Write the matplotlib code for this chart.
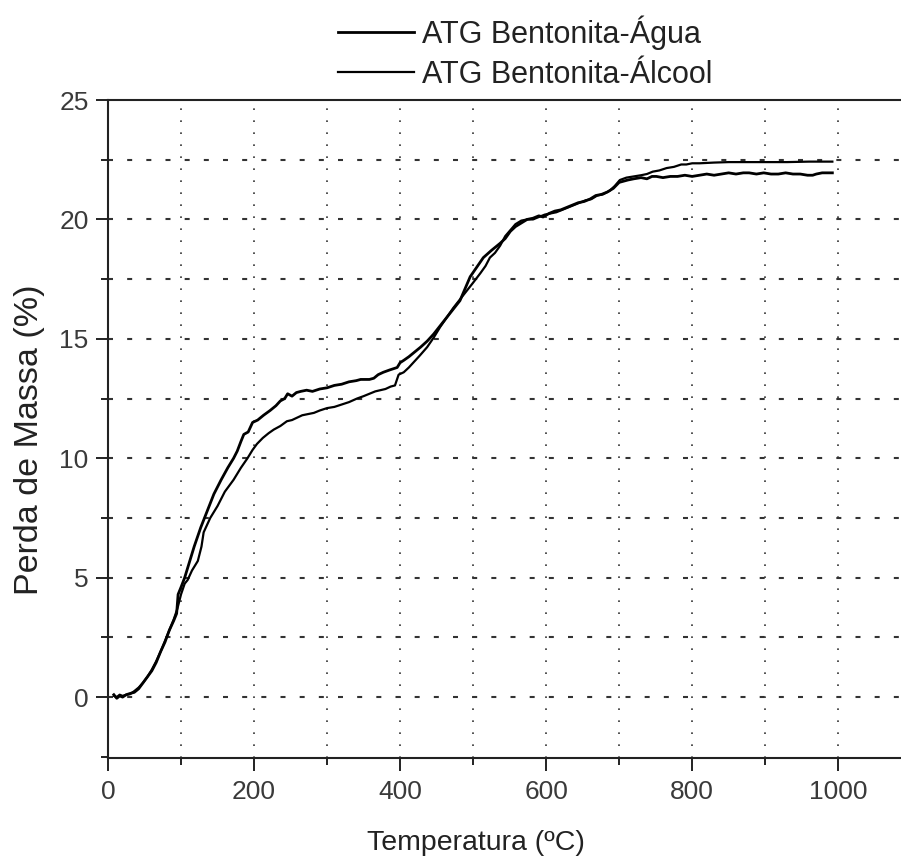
import matplotlib
matplotlib.use("Agg")
import matplotlib.pyplot as plt
from matplotlib.ticker import MultipleLocator

plt.rcParams['font.family'] = ['Liberation Sans', 'DejaVu Sans']

# ---- data ----
temp_agua = [8, 12, 16, 20, 25, 30, 36, 42, 48, 54, 60, 66, 72, 78, 84, 90, 94, 96, 100, 105,
             111, 118, 127, 136, 145, 155, 164, 172, 177, 182, 186, 192, 198, 205, 213, 222,
             230, 236, 242, 246, 252, 258, 264, 272, 280, 290, 300, 310, 320, 330, 340, 346,
             352, 358, 364, 370, 377, 386, 396, 400, 405, 412, 420, 428, 437, 446, 455, 464,
             473, 482, 489, 496, 505, 514, 525, 537, 544, 551, 558, 566, 574, 582, 590, 596,
             604, 612, 620, 628, 636, 644, 652, 660, 668, 676, 684, 692, 700, 706, 712, 720,
             730, 738, 745, 751, 760, 770, 780, 790, 800, 810, 820, 830, 840, 850, 860, 870,
             878, 888, 898, 908, 918, 928, 938, 948, 958, 965, 970, 978, 985, 992]
perda_agua = [0.1, -0.05, 0.05, 0.0, 0.1, 0.15, 0.2, 0.35, 0.6, 0.85, 1.1, 1.45, 1.9, 2.3, 2.8,
              3.2, 3.5, 4.3, 4.6, 5.0, 5.6, 6.3, 7.1, 7.8, 8.5, 9.1, 9.6, 10.0, 10.3, 10.7, 11.0,
              11.1, 11.5, 11.6, 11.8, 12.0, 12.2, 12.4, 12.5, 12.7, 12.6, 12.75, 12.8, 12.85,
              12.8, 12.9, 12.95, 13.05, 13.1, 13.2, 13.25, 13.3, 13.3, 13.3, 13.35, 13.5, 13.6,
              13.7, 13.8, 14.0, 14.1, 14.25, 14.45, 14.65, 14.9, 15.2, 15.55, 15.9, 16.25, 16.6,
              17.1, 17.6, 18.0, 18.4, 18.7, 19.0, 19.2, 19.5, 19.7, 19.85, 20.0, 20.05, 20.15,
              20.1, 20.25, 20.35, 20.4, 20.5, 20.6, 20.7, 20.75, 20.85, 21.0, 21.05, 21.15, 21.3,
              21.55, 21.6, 21.65, 21.7, 21.75, 21.7, 21.8, 21.8, 21.75, 21.8, 21.8, 21.85, 21.8,
              21.85, 21.9, 21.85, 21.9, 21.95, 21.9, 21.95, 21.95, 21.9, 21.95, 21.9, 21.9,
              21.95, 21.9, 21.9, 21.85, 21.85, 21.9, 21.95, 21.95, 21.95]

temp_alcool = [8, 12, 16, 20, 25, 30, 36, 42, 48, 54, 60, 66, 72, 78, 84, 90, 95, 100, 105, 109,
               115, 123, 128, 131, 140, 150, 160, 172, 182, 191, 198, 204, 212, 220, 227, 236,
               245, 252, 259, 266, 274, 282, 290, 300, 310, 320, 330, 341, 350, 358, 366, 373,
               380, 387, 393, 398, 405, 412, 418, 427, 437, 446, 455, 464, 473, 482, 491, 500,
               510, 517, 523, 530, 537, 544, 551, 558, 566, 574, 582, 590, 598, 606, 614, 622,
               630, 638, 646, 654, 662, 670, 678, 687, 694, 701, 710, 720, 730, 738, 746, 755,
               765, 775, 785, 792, 800, 810, 830, 850, 870, 900, 930, 960, 992]
perda_alcool = [0.05, 0.0, 0.1, 0.05, 0.1, 0.12, 0.25, 0.4, 0.6, 0.85, 1.15, 1.5, 1.9, 2.35, 2.8,
                3.25, 3.7, 4.3, 4.75, 4.9, 5.3, 5.7, 6.3, 6.9, 7.5, 8.0, 8.6, 9.1, 9.6, 10.0,
                10.35, 10.6, 10.85, 11.05, 11.2, 11.35, 11.55, 11.6, 11.7, 11.8, 11.85, 11.9,
                12.0, 12.1, 12.15, 12.25, 12.35, 12.5, 12.6, 12.7, 12.8, 12.85, 12.9, 13.0,
                13.05, 13.5, 13.6, 13.8, 14.0, 14.3, 14.65, 15.05, 15.5, 15.9, 16.3, 16.65, 17.0,
                17.35, 17.75, 18.05, 18.4, 18.6, 18.9, 19.3, 19.55, 19.8, 19.95, 20.0, 20.0,
                20.1, 20.2, 20.25, 20.3, 20.4, 20.5, 20.6, 20.7, 20.8, 20.85, 21.0, 21.05, 21.2,
                21.4, 21.65, 21.75, 21.8, 21.85, 21.9, 22.0, 22.05, 22.15, 22.2, 22.3, 22.3,
                22.35, 22.35, 22.38, 22.4, 22.4, 22.4, 22.4, 22.42, 22.42]

label_agua = "ATG Bentonita-Água"
label_alcool = "ATG Bentonita-Álcool"
xlabel = "Temperatura (ºC)"
ylabel = "Perda de Massa (%)"
x_major = [0, 200, 400, 600, 800, 1000]
y_major = [0, 5, 10, 15, 20, 25]

# ---- figure ----
fig = plt.figure(figsize=(9.01, 8.59), dpi=100)
ax = fig.add_axes([108/901, 1-758/859, 1-108/901, (758-100)/859])

txt = '#222222'
la, = ax.plot(temp_agua, perda_agua, color='black', lw=2.0, zorder=3)
lb, = ax.plot(temp_alcool, perda_alcool, color='black', lw=1.6, zorder=3)

ax.set_xlim(0, 1086)
ax.set_ylim(-2.55, 25)
ax.set_xticks(x_major)
ax.set_yticks(y_major)
ax.xaxis.set_minor_locator(MultipleLocator(100))
ax.yaxis.set_minor_locator(MultipleLocator(2.5))

for v in range(100, 1100, 100):
    ax.axvline(v, color='#333333', lw=1.2, linestyle=(0, (1.0, 6.2)), zorder=1)
for v in [0, 2.5, 5, 7.5, 10, 12.5, 15, 17.5, 20, 22.5]:
    ax.axhline(v, color='#333333', lw=1.5, linestyle=(0, (2.4, 6.8)), zorder=1)

ax.spines['right'].set_visible(False)
for s in ['left', 'bottom', 'top']:
    ax.spines[s].set_linewidth(1.5)
    ax.spines[s].set_color('#222222')

ax.tick_params(axis='both', which='major', length=9, width=1.4, direction='out',
               labelsize=19, labelcolor='#3a3a3a', color='#222222')
ax.tick_params(axis='x', which='major', pad=7)
ax.tick_params(axis='y', which='major', pad=5)
ax.tick_params(axis='both', which='minor', length=5, width=1.4, direction='out',
               color='#222222')

fig.text(476/901, 1-843/859, xlabel, fontsize=20.5, color=txt, ha='center', va='center')
fig.text(30/901, 1-440/859, ylabel, fontsize=24.5, color=txt, ha='center', va='center',
         rotation=90)

fig.legend([la, lb], [label_agua, label_alcool], loc='center left',
           bbox_to_anchor=(338/901, 1-52.5/859), frameon=False, fontsize=22,
           handlelength=2.5, handletextpad=0.26, labelspacing=0.34, borderpad=0,
           borderaxespad=0, labelcolor=txt)

fig.savefig('out.png', dpi=100)
